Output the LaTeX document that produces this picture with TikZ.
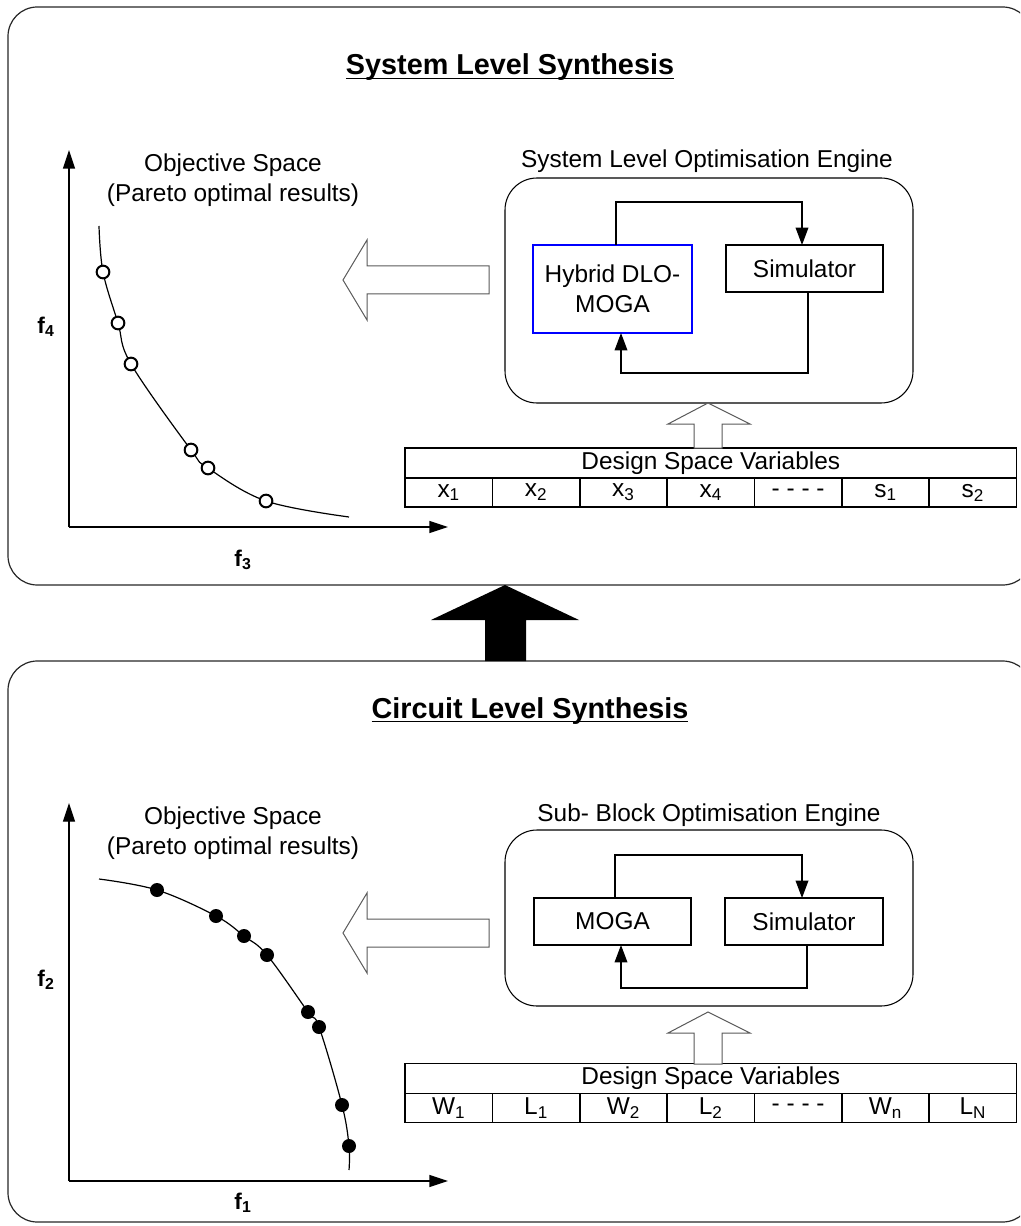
\documentclass[tikz,border=0pt]{standalone}
\usepackage{fontspec}
\setmainfont{Liberation Sans}
\usetikzlibrary{arrows.meta,calc}
% bold heading with a heavier underline
\newcommand\ulbold[1]{\setbox0=\hbox{#1}\rlap{\rule[-3.2pt]{\wd0}{1.3pt}}\box0}
\begin{document}
\begin{tikzpicture}[x=0.75pt,y=-0.75pt,
  every node/.style={inner sep=0pt, outer sep=0pt},
  lbl/.style={font=\fontsize{18.3}{22.5}\selectfont, align=center},
  ttl/.style={font=\fontsize{21.6}{26}\selectfont\bfseries},
  axlbl/.style={font=\fontsize{17}{19}\selectfont\bfseries},
  frame/.style={draw=black!85, line width=0.9pt, rounded corners=22pt},
  engine/.style={draw, line width=0.8pt, rounded corners=24pt},
  block/.style={draw, line width=1pt, lbl},
  cell/.style={draw, line width=1.2pt, lbl, minimum width=65.52pt, minimum height=21.9pt},
  headcell/.style={draw, line width=1.2pt, lbl, minimum width=458.6pt, minimum height=22.5pt},
  flow/.style={line width=1pt, -{Triangle[length=13pt,width=9.5pt]}},
  axis/.style={line width=1pt, -{Triangle[length=14pt,width=9pt]}},
  hollow/.style={draw=black!65, line width=0.75pt, fill=white, line join=miter},
  curve/.style={line width=0.9pt},
  odot/.style={circle, draw, line width=1.5pt, fill=white, minimum size=9.5pt},
  fdot/.style={circle, fill=black, minimum size=10.5pt},
]
\useasboundingbox (0,0) rectangle (1020,1226);
\clip (0,0) rectangle (1020,1226);

% ---------------- outer frames ----------------
\draw[frame] (8,7) rectangle (1032,585);
\draw[frame] (8,661) rectangle (1032,1222);

% black arrow between the two levels
\fill[black] (485,661) -- (485,620) -- (431,620) -- (505,585) -- (579,620) -- (526,620) -- (526,661) -- cycle;

% =============== SYSTEM LEVEL ===============
\node[ttl, anchor=base] (title1) at (510,75) {\ulbold{System Level Synthesis}};

% objective space plot
\coordinate (o1) at (69,527);
\coordinate (ytip1) at (69,150);
\coordinate (xtip1) at (448,527);
\draw[axis] (o1) -- (ytip1);
\draw[axis] (o1) -- (xtip1);
\node[axlbl] (f4) at (46,327) {f\textsubscript{4}};
\node[axlbl] (f3) at (243,560) {f\textsubscript{3}};
\node[lbl] (obj1) at (233,180) {Objective Space\\(Pareto optimal results)};

\draw[curve] plot[smooth, tension=0.6] coordinates {(99,226) (103,272) (118,323) (131,364) (191,450) (208,468) (266,501) (349,517)};
\foreach \p [count=\i] in {(103,272),(118,323),(131,364),(191,450),(208,468),(266,501)}
  \node[odot] (q\i) at \p {};

% results arrow
\draw[hollow] (489,266) -- (367,266) -- (367,240) -- (343,280) -- (367,320) -- (367,294) -- (489,294) -- cycle;

% optimisation engine
\node[lbl, anchor=base] (eng1lbl) at (707,168) {System Level Optimisation Engine};
\node[engine, minimum width=306pt, minimum height=168.75pt] (eng1) at (709,290.5) {};
\node[block, draw=blue, line width=1.5pt, minimum width=119.25pt, minimum height=66pt] (hyb) at (612.5,289) {Hybrid DLO-\\MOGA};
\node[block, minimum width=117.75pt, minimum height=35.25pt] (sim1) at (804.5,268.5) {Simulator};
\draw[flow] ($(hyb.north)+(3.5,0)$) -- ++(0,-43) -| ($(sim1.north)+(-2.5,0)$);
\draw[flow] ($(sim1.south)+(3.5,0)$) -- ++(0,81) -| ($(hyb.south)+(8.5,0)$);

% design space variables
\node[headcell] (dsv1) at (710.75,463) {Design Space Variables};
\foreach \t [count=\i] in {x\textsubscript{1},x\textsubscript{2},x\textsubscript{3},x\textsubscript{4},- - - -,s\textsubscript{1},s\textsubscript{2}}
  \node[cell] (a\i) at ({405+87.36*(\i-0.5)},492.5) {\t};
\draw[hollow] (694,448) -- (694,424) -- (668,424) -- (708,403) -- (750,424) -- (722,424) -- (722,448) -- cycle;

% =============== CIRCUIT LEVEL ===============
\node[ttl, anchor=base] (title2) at (530,718) {\ulbold{Circuit Level Synthesis}};

\coordinate (o2) at (69,1181);
\coordinate (ytip2) at (69,803);
\coordinate (xtip2) at (448,1181);
\draw[axis] (o2) -- (ytip2);
\draw[axis] (o2) -- (xtip2);
\node[axlbl] (f2) at (46,980) {f\textsubscript{2}};
\node[axlbl] (f1) at (243,1203) {f\textsubscript{1}};
\node[lbl] (obj2) at (233,833) {Objective Space\\(Pareto optimal results)};

\draw[curve] plot[smooth, tension=0.6] coordinates {(99,879) (157,890) (216,916) (244,936) (267,955) (308,1012) (319,1027) (342,1105) (349,1146) (349,1170)};
\foreach \p [count=\i] in {(157,890),(216,916),(244,936),(267,955),(308,1012),(319,1027),(342,1105),(349,1146)}
  \node[fdot] (r\i) at \p {};

\draw[hollow] (489,919) -- (367,919) -- (367,893) -- (343,933) -- (367,973) -- (367,947) -- (489,947) -- cycle;

\node[lbl, anchor=base] (eng2lbl) at (709,821) {Sub- Block Optimisation Engine};
\node[engine, minimum width=306pt, minimum height=132pt] (eng2) at (709,918) {};
\node[block, minimum width=117.75pt, minimum height=35.25pt] (moga) at (612.5,921.5) {MOGA};
\node[block, minimum width=118.5pt, minimum height=35.25pt] (sim2) at (804,921.5) {Simulator};
\draw[flow] ($(moga.north)+(2.5,0)$) -- ++(0,-43) -| ($(sim2.north)+(-2,0)$);
\draw[flow] ($(sim2.south)+(3,0)$) -- ++(0,43) -| ($(moga.south)+(8.5,0)$);

\node[headcell] (dsv2) at (710.75,1078.5) {Design Space Variables};
\foreach \t [count=\i] in {W\textsubscript{1},L\textsubscript{1},W\textsubscript{2},L\textsubscript{2},- - - -,W\textsubscript{n},L\textsubscript{N}}
  \node[cell] (b\i) at ({405+87.36*(\i-0.5)},1108) {\t};
\draw[hollow] (694,1064) -- (694,1033) -- (668,1033) -- (708,1012) -- (750,1033) -- (722,1033) -- (722,1064) -- cycle;
\end{tikzpicture}
\end{document}
